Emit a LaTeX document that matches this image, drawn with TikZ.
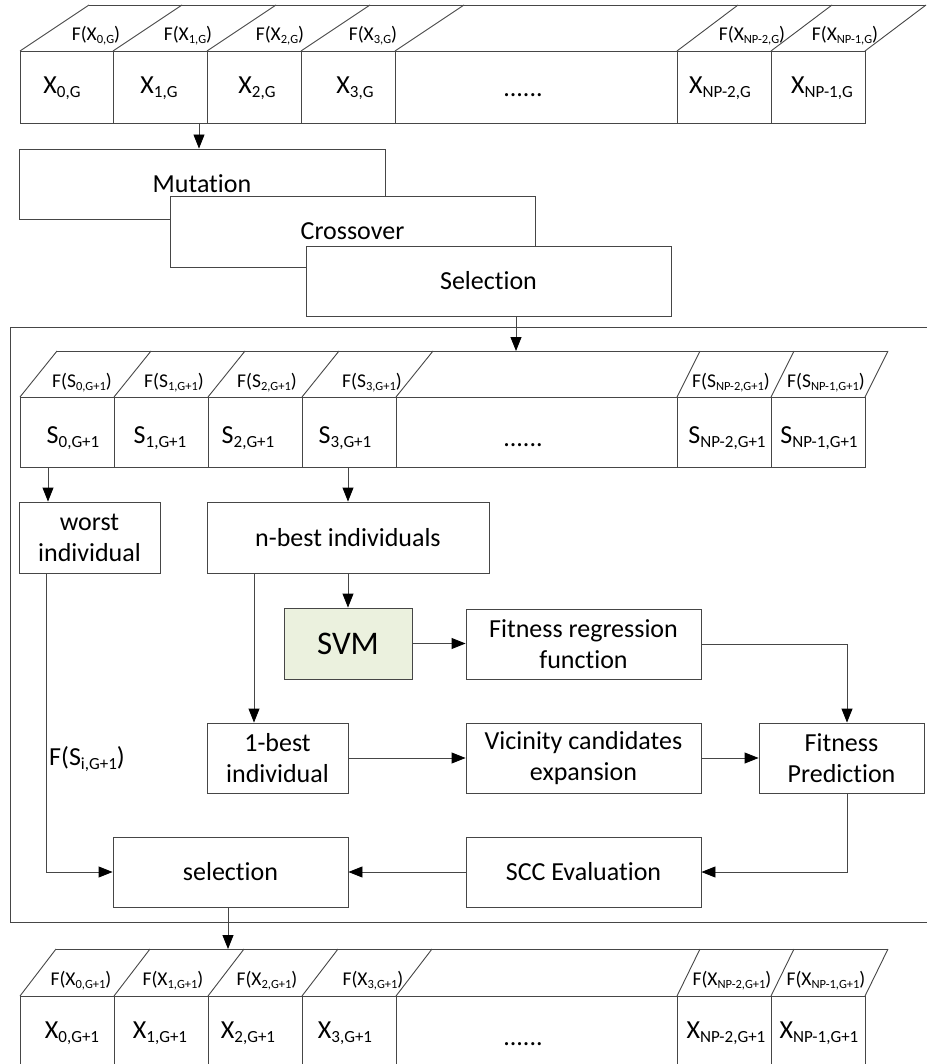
\documentclass[tikz,border=0pt]{standalone}
\usepackage{fontspec}
\setmainfont{Carlito}[Ligatures={NoCommon}]
\usetikzlibrary{arrows.meta}

\definecolor{linegray}{RGB}{70,70,70}
\definecolor{svmgreen}{RGB}{235,241,222}

% subscripts for the large cell labels and for the small fitness labels
\newcommand\bsub[1]{\raisebox{-4pt}{\fontsize{17}{17}\selectfont #1}}
\newcommand\fsub[1]{\raisebox{-3pt}{\fontsize{12.5}{12.5}\selectfont #1}}

\tikzset{
  edge/.style={draw=linegray, line width=0.9pt},
  flow/.style={edge, -{Triangle[length=14pt,width=11pt,color=black]}},
  box/.style={draw=linegray, line width=0.9pt, fill=white, rectangle,
    inner sep=0pt, align=center, font=\fontsize{26}{31}\selectfont},
  flab/.style={anchor=base, inner sep=0pt, font=\fontsize{19.5}{19.5}\selectfont},
  clab/.style={anchor=base, inner sep=0pt, font=\fontsize{26}{26}\selectfont},
}

\begin{document}
\begin{tikzpicture}[x=1pt, y=-1pt]
\useasboundingbox (0,0) rectangle (926,1064);

% ---------- population X_G ----------
\draw[edge] (20,51) rectangle (865,123);
\foreach \x in {113,207,301,395,677,771} \draw[edge] (\x,51) -- (\x,123);
\foreach \x in {20,113,207,301,395} \draw[edge] (\x,51) -- ++(69,-46);
\foreach \x in {677,771,865} \draw[edge] (\x,51) -- ++(61,-46);
\draw[edge] (89,5) -- (926,5);

\node[flab] (fx0) at (96,41) {F(X\fsub{0,G})};
\node[flab] (fx1) at (188,41) {F(X\fsub{1,G})};
\node[flab] (fx2) at (280,41) {F(X\fsub{2,G})};
\node[flab] (fx3) at (373,41) {F(X\fsub{3,G})};
\node[flab] (fxa) at (752,41) {F(X\fsub{NP-2,G})};
\node[flab] (fxb) at (845,41) {F(X\fsub{NP-1,G})};

\node[clab] (x0) at (62,94) {X\bsub{0,G}};
\node[clab] (x1) at (159,94) {X\bsub{1,G}};
\node[clab] (x2) at (257,94) {X\bsub{2,G}};
\node[clab] (x3) at (355,94) {X\bsub{3,G}};
\node[clab] (xd) at (523,97) {......};
\node[clab] (xa) at (720,94) {X\bsub{NP-2,G}};
\node[clab] (xb) at (822,94) {X\bsub{NP-1,G}};

% ---------- DE operators ----------
\node[box, minimum width=366, minimum height=70] (mut) at (202,184) {Mutation};
\node[box, minimum width=365, minimum height=71] (cro) at (352.5,231.5) {Crossover};
\node[box, minimum width=365, minimum height=70] (sel) at (488.5,281) {Selection};

\coordinate (xg1) at (199,123);
\draw[flow] (xg1) -- (xg1 |- mut.north);

% ---------- surrogate block frame ----------
\draw[edge] (10,327) rectangle (940,922);

% ---------- trial population S_{G+1} ----------
\draw[edge] (20,397) rectangle (865,467);
\foreach \x in {114,208,302,396,677,771} \draw[edge] (\x,397) -- (\x,467);
\foreach \x in {20,114,208,302,396} \draw[edge] (\x,397) -- ++(37,-46);
\foreach \x in {677,771,865} \draw[edge] (\x,397) -- ++(23,-46);
\draw[edge] (57,351) -- (888,351);

\node[flab] (fs0) at (82,387) {F(S\fsub{0,G+1})};
\node[flab] (fs1) at (174,387) {F(S\fsub{1,G+1})};
\node[flab] (fs2) at (267,387) {F(S\fsub{2,G+1})};
\node[flab] (fs3) at (372,387) {F(S\fsub{3,G+1})};
\node[flab] (fsa) at (731,387) {F(S\fsub{NP-2,G+1})};
\node[flab] (fsb) at (826,387) {F(S\fsub{NP-1,G+1})};

\node[clab] (s0) at (73,443) {S\bsub{0,G+1}};
\node[clab] (s1) at (160,443) {S\bsub{1,G+1}};
\node[clab] (s2) at (248,443) {S\bsub{2,G+1}};
\node[clab] (s3) at (345,443) {S\bsub{3,G+1}};
\node[clab] (sd) at (523,446) {......};
\node[clab] (sa) at (727,443) {S\bsub{NP-2,G+1}};
\node[clab] (sb) at (819,443) {S\bsub{NP-1,G+1}};

\coordinate (srow) at (516,351);
\draw[flow] (sel.south -| srow) -- (srow);

% ---------- surrogate-assisted steps ----------
\node[box, minimum width=141, minimum height=71] (worst) at (89.5,537.5) {worst\\individual};
\node[box, minimum width=282, minimum height=71] (nbest) at (348,537.5) {n-best individuals};
\node[box, minimum width=128, minimum height=71, fill=svmgreen,
      font=\fontsize{33}{33}\selectfont] (svm) at (348,643.5) {SVM};
\node[box, minimum width=235, minimum height=70] (freg) at (583.5,644) {Fitness regression\\function};
\node[box, minimum width=141, minimum height=70] (one) at (277.5,758) {1-best\\individual};
\node[box, minimum width=235, minimum height=70] (vic) at (583.5,758) {Vicinity candidates\\expansion};
\node[box, minimum width=165, minimum height=70] (fpred) at (841.5,758) {Fitness\\Prediction};
\node[box, minimum width=235, minimum height=70] (scc) at (583.5,872) {SCC Evaluation};
\node[box, minimum width=235, minimum height=70] (pick) at (230.5,872) {selection};

\coordinate (s0out) at (48,467);
\coordinate (s3out) at (348,467);
\coordinate (kone) at (254,0);
\coordinate (kpred) at (847,0);
\coordinate (kworst) at (46,0);
\coordinate (kpick) at (228,0);

\draw[flow] (s0out) -- (s0out |- worst.north);
\draw[flow] (s3out) -- (s3out |- nbest.north);
\draw[flow] (nbest.south) -- (svm.north);
\draw[flow] (kone |- nbest.south) -- (kone |- one.north);
\draw[flow] (svm.east) -- (svm.east -| freg.west);
\draw[flow] (freg.east) -| (kpred |- fpred.north);
\draw[flow] (one.east) -- (one.east -| vic.west);
\draw[flow] (vic.east) -- (vic.east -| fpred.west);
\draw[flow] (kpred |- fpred.south) |- (scc.east);
\draw[flow] (scc.west) -- (scc.west -| pick.east);
\draw[flow] (kworst |- worst.south) |- (pick.west);

\node[anchor=base west, inner sep=0pt, font=\fontsize{26}{26}\selectfont] (fsi) at (49,765) {F(S\bsub{i,G+1})};

% ---------- next population X_{G+1} ----------
\draw[edge] (20,996) rectangle (865,1090);
\foreach \x in {114,208,302,396,677,771} \draw[edge] (\x,996) -- (\x,1090);
\foreach \x in {20,114,208,302,396} \draw[edge] (\x,996) -- ++(36,-47);
\foreach \x in {677,771,865} \draw[edge] (\x,996) -- ++(23,-47);
\draw[edge] (56,949) -- (888,949);

\node[flab] (fn0) at (81,985) {F(X\fsub{0,G+1})};
\node[flab] (fn1) at (173,985) {F(X\fsub{1,G+1})};
\node[flab] (fn2) at (267,985) {F(X\fsub{2,G+1})};
\node[flab] (fn3) at (373,985) {F(X\fsub{3,G+1})};
\node[flab] (fna) at (732,985) {F(X\fsub{NP-2,G+1})};
\node[flab] (fnb) at (826,985) {F(X\fsub{NP-1,G+1})};

\node[clab] (n0) at (72,1038) {X\bsub{0,G+1}};
\node[clab] (n1) at (160,1038) {X\bsub{1,G+1}};
\node[clab] (n2) at (248,1038) {X\bsub{2,G+1}};
\node[clab] (n3) at (345,1038) {X\bsub{3,G+1}};
\node[clab] (nd) at (523,1045) {......};
\node[clab] (na) at (726,1038) {X\bsub{NP-2,G+1}};
\node[clab] (nb) at (819,1038) {X\bsub{NP-1,G+1}};

\coordinate (nrow) at (228,949);
\draw[flow] (kpick |- pick.south) -- (nrow);
\end{tikzpicture}
\end{document}
